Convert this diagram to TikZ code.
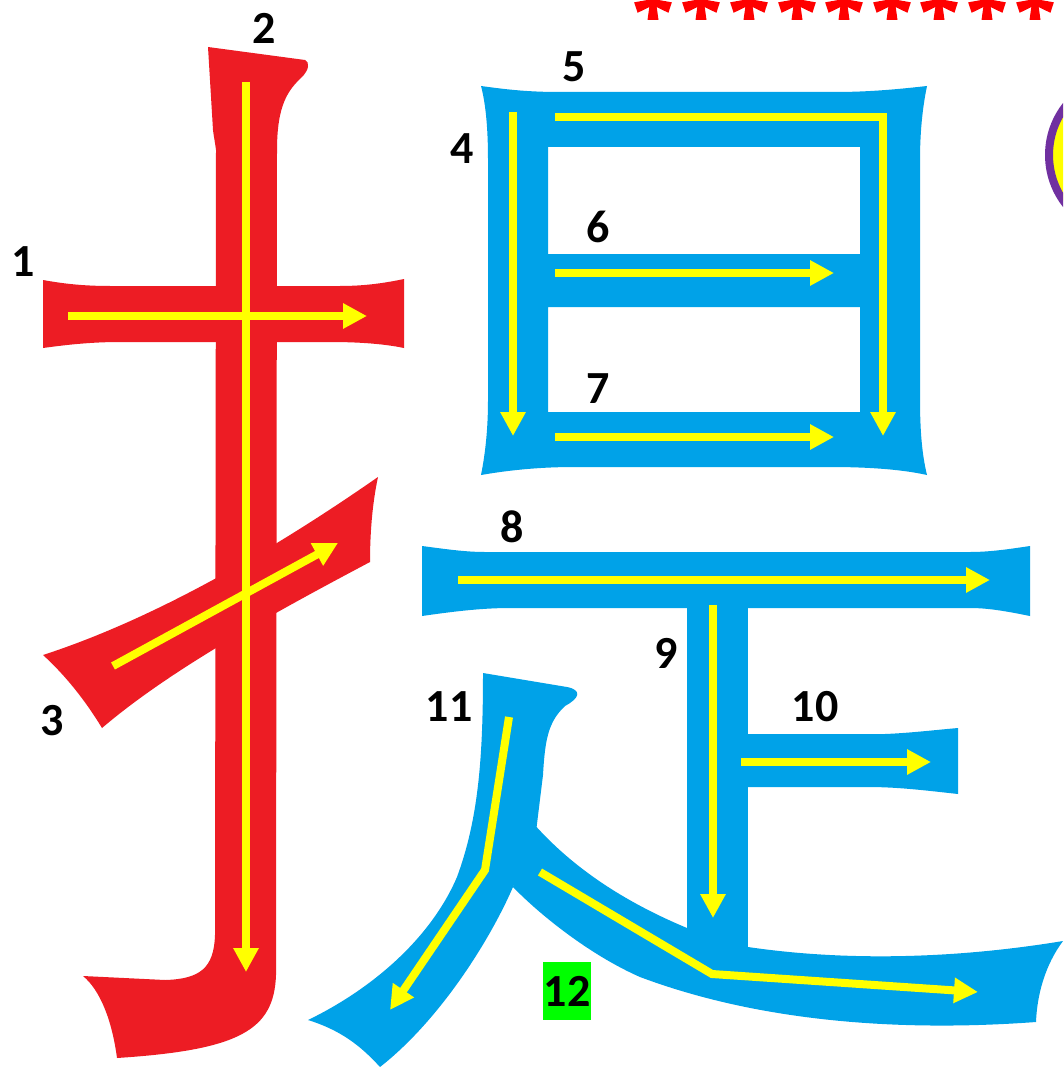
\documentclass[tikz,border=0pt]{standalone}
\usepackage{fontspec}
\setmainfont{Carlito}
\usetikzlibrary{arrows.meta}
\definecolor{redc}{RGB}{237,28,36}
\definecolor{bluec}{RGB}{0,162,232}
\definecolor{yel}{RGB}{255,255,0}
\definecolor{purp}{RGB}{112,48,160}
\definecolor{grn}{RGB}{0,255,0}
\definecolor{astred}{RGB}{255,0,0}
\tikzset{
  redstroke/.style={fill=redc},
  bluestroke/.style={fill=bluec},
  guide/.style={draw=yel, line width=8pt, line join=miter, -{Triangle[length=24pt,width=24pt]}},
  num/.style={font=\fontsize{46}{50}\selectfont\bfseries, inner sep=0pt, text=black},
}
\begin{document}
\begin{tikzpicture}[x=1pt,y=-1pt]
\useasboundingbox (0,0) rectangle (1063,1067);
\clip (0,0) rectangle (1063,1067);
\fill[white] (0,0) rectangle (1063,1067);

% ---------- red radical ----------
% stroke 1
\fill[redstroke] (43,280) .. controls (65,284) and (85,286) .. (110,286) -- (340,286)
  .. controls (365,286) and (385,283) .. (404,279) -- (404,348)
  .. controls (385,344) and (360,342) .. (330,342) -- (120,342)
  .. controls (90,342) and (65,345) .. (43,348) -- cycle;
% stroke 2
\fill[redstroke] (208,47) -- (305,60) .. controls (310,62) and (309,70) .. (302,77)
  .. controls (288,90) and (277,105) .. (277,150) -- (276,975)
  .. controls (274,1030) and (240,1050) .. (117,1058)
  .. controls (112,1020) and (100,990) .. (83,976)
  -- (165,980) .. controls (200,979) and (214,968) .. (215,935)
  -- (216,150) .. controls (215,142) and (214,138) .. (213,130) -- cycle;
% stroke 3
\fill[redstroke] (43,655) .. controls (120,630) and (230,580) .. (378,477)
  .. controls (372,505) and (370,535) .. (370,562)
  .. controls (270,615) and (170,670) .. (102,728)
  .. controls (85,700) and (65,675) .. (43,655) -- cycle;

\draw[guide] (68,316) -- (367,316);
\draw[guide] (246,82) -- (246,972);
\draw[guide] (113,666) -- (338,543);

% ---------- blue box (strokes 4-7) ----------
\fill[bluestroke, even odd rule]
  (481,86) .. controls (510,90) and (530,92) .. (560,92) -- (835,92)
  .. controls (870,92) and (900,89) .. (927,86)
  .. controls (922,110) and (920,135) .. (920,160) -- (920,400)
  .. controls (920,430) and (922,455) .. (927,475)
  .. controls (900,469) and (865,467) .. (830,467) -- (575,467)
  .. controls (540,467) and (510,470) .. (481,475)
  .. controls (486,450) and (488,425) .. (488,400) -- (488,160)
  .. controls (488,130) and (486,105) .. (481,86) -- cycle
  (548,147) rectangle (860,254)
  (548,307) rectangle (860,412);

\draw[guide] (513,112) -- (513,436);
\draw[guide] (555,117) -- (883,117) -- (883,436);
\draw[guide] (555,273) -- (834,273);
\draw[guide] (555,437) -- (834,437);

% ---------- blue lower part (strokes 8-12) ----------
% stroke 8
\fill[bluestroke] (422,546) .. controls (445,549) and (465,552) .. (485,552) -- (970,552)
  .. controls (990,552) and (1010,549) .. (1030,546) -- (1030,616)
  .. controls (1010,612) and (990,608) .. (970,608) -- (510,608)
  .. controls (480,608) and (450,612) .. (422,616) -- cycle;
% stroke 9
\fill[bluestroke] (687,600) rectangle (748,960);
% stroke 10
\fill[bluestroke] (740,734) -- (885,734) .. controls (910,733) and (935,730) .. (958,728)
  -- (958,794) .. controls (930,791) and (900,787) .. (868,787) -- (740,787) -- cycle;
% stroke 11
\fill[bluestroke] (483,673) -- (567,687) .. controls (582,690) and (580,698) .. (565,706)
  .. controls (548,722) and (545,740) .. (543,775) -- (535,840) -- (513,887)
  .. controls (490,940) and (440,1020) .. (380,1067)
  .. controls (360,1045) and (340,1030) .. (308,1020)
  .. controls (370,990) and (430,940) .. (457,877)
  .. controls (478,820) and (483,760) .. (483,673) -- cycle;
% stroke 12
\fill[bluestroke] (533,823) .. controls (570,865) and (620,900) .. (687,928) -- (748,947)
  .. controls (850,962) and (960,958) .. (1063,941)
  .. controls (1045,965) and (1037,995) .. (1036,1022)
  .. controls (900,1032) and (760,1022) .. (640,977)
  .. controls (590,955) and (540,915) .. (513,887) -- cycle;

\draw[guide] (458,580) -- (990,580);
\draw[guide] (713,605) -- (713,918);
\draw[guide] (741,762) -- (931,762);
\draw[guide] (509,717) -- (485,870) -- (390,1010);
\draw[guide] (540,872) -- (712,974) -- (978,992);

% ---------- asterisks ----------
\foreach \cx in {653,701,749,797,844,892,939,987,1035} {
  \begin{scope}[shift={(\cx,2)}]
    \foreach \a in {18,90,162,234,306}
      \fill[astred, rotate=-\a] (0,-3) -- (18,-5.5) -- (18,5.5) -- (0,3) -- cycle;
    \fill[astred] (0,0) circle[radius=4];
  \end{scope}
}

% ---------- purple circle ----------
\draw[draw=purp, fill=yel, line width=8pt] (1129,155) circle[radius=80];

% ---------- labels ----------
\node[num] (l1) at (23,262) {1};
\node[num] (l2) at (264,28) {2};
\node[num] (l3) at (52,721) {3};
\node[num] (l4) at (462,149) {4};
\node[num] (l5) at (574,67) {5};
\node[num] (l6) at (598,227) {6};
\node[num] (l7) at (598,389) {7};
\node[num] (l8) at (512,527) {8};
\node[num] (l9) at (666,653) {9};
\node[num] (l10) at (815,707) {10};
\node[num] (l11) at (449,707) {11};
\fill[grn] (543,962) rectangle (591,1020);
\node[num] (l12) at (567,991) {12};
\end{tikzpicture}
\end{document}
